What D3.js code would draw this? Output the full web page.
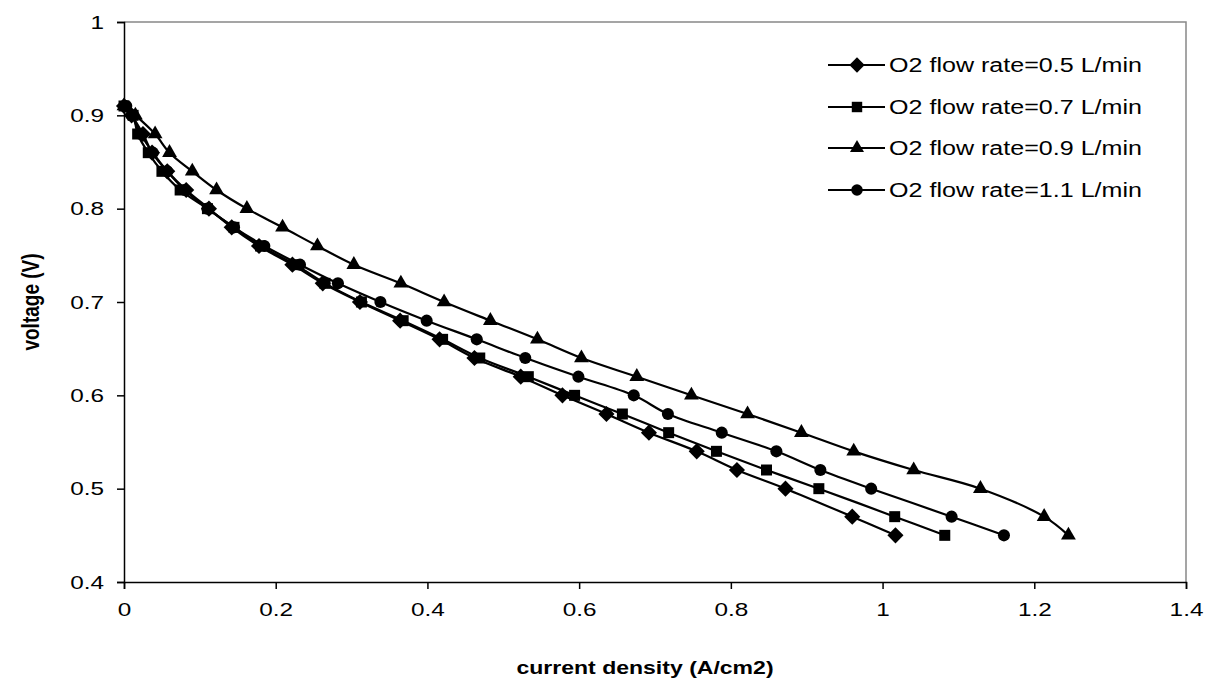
<!DOCTYPE html>
<html>
<head>
<meta charset="utf-8">
<script src="https://cdn.jsdelivr.net/npm/d3@7"></script>
<style>
  body { margin: 0; background: #fff; }
  text { font-family: "Liberation Sans", Arial, sans-serif; fill: #000; }
</style>
</head>
<body>
<div id="chart"></div>
<script>
// data
const seriesNames = ["O2 flow rate=0.5 L/min", "O2 flow rate=0.7 L/min", "O2 flow rate=0.9 L/min", "O2 flow rate=1.1 L/min"]
const markers = ["diamond", "square", "triangle", "circle"]
const voltage = [0.91, 0.90, 0.88, 0.86, 0.84, 0.82, 0.80, 0.78, 0.76, 0.74, 0.72, 0.70, 0.68, 0.66, 0.64, 0.62, 0.60, 0.58, 0.56, 0.54, 0.52, 0.50, 0.47, 0.45]
const current05 = [0.000, 0.010, 0.025, 0.037, 0.057, 0.082, 0.112, 0.142, 0.178, 0.222, 0.262, 0.311, 0.364, 0.416, 0.462, 0.523, 0.578, 0.636, 0.692, 0.755, 0.808, 0.872, 0.960, 1.017]
const current07 = [0.000, 0.012, 0.018, 0.032, 0.050, 0.074, 0.110, 0.145, 0.180, 0.226, 0.265, 0.313, 0.368, 0.420, 0.469, 0.533, 0.594, 0.657, 0.718, 0.781, 0.847, 0.916, 1.016, 1.082]
const current09 = [0.000, 0.015, 0.041, 0.060, 0.090, 0.122, 0.162, 0.209, 0.255, 0.303, 0.365, 0.422, 0.483, 0.545, 0.603, 0.676, 0.748, 0.822, 0.893, 0.962, 1.041, 1.129, 1.213, 1.245]
const current11 = [0.003, 0.010, 0.022, 0.038, 0.057, 0.080, 0.110, 0.145, 0.185, 0.232, 0.282, 0.338, 0.399, 0.465, 0.529, 0.599, 0.672, 0.717, 0.788, 0.860, 0.918, 0.985, 1.091, 1.160]
const xTicks = [0, 0.2, 0.4, 0.6, 0.8, 1, 1.2, 1.4]
const yTicks = [0.4, 0.5, 0.6, 0.7, 0.8, 0.9, 1]

const currents = [current05, current07, current09, current11]

// chart is a bit wider than normal, stretch the text to match
const stretch = 1.28

const w = 1211
const h = 686
const plotL = 124, plotR = 1186, plotT = 22, plotB = 582

const svg = d3.select('#chart')
    .append('svg')
    .attr('width', w)
    .attr('height', h)

const xScale = d3.scaleLinear().domain([0, 1.4]).range([plotL, plotR])
const yScale = d3.scaleLinear().domain([0.4, 1]).range([plotB, plotT])

// plot area border (grey, top and right)
svg.append('path')
    .attr('d', `M${plotL},${plotT}H${plotR}V${plotB}`)
    .attr('fill', 'none')
    .attr('stroke', '#888')
    .attr('stroke-width', 1.5)

// axes
const xAxis = d3.axisBottom(xScale)
    .tickValues(xTicks)
    .tickFormat(d => d)
    .tickSize(7)
    .tickPadding(14)
const yAxis = d3.axisLeft(yScale)
    .tickValues(yTicks)
    .tickFormat(d => d)
    .tickSize(7)
    .tickPadding(13)

const gx = svg.append('g')
    .attr('transform', `translate(0,${plotB})`)
    .call(xAxis)
const gy = svg.append('g')
    .attr('transform', `translate(${plotL},0)`)
    .call(yAxis)

for (const g of [gx, gy]) {
    g.select('.domain').attr('stroke', '#000').attr('stroke-width', 1.5)
    g.selectAll('.tick line').attr('stroke', '#000').attr('stroke-width', 1.5)
    g.selectAll('.tick text')
        .attr('font-size', 19)
        .attr('font-family', '"Liberation Sans", Arial, sans-serif')
}
gx.selectAll('.tick text').attr('transform', `scale(${stretch},1)`)
gy.selectAll('.tick text').each(function () {
    const t = d3.select(this)
    const x = +t.attr('x')
    t.attr('x', x / stretch).attr('transform', `scale(${stretch},1)`)
})

// marker shapes
const markerPath = (type, s) => {
    if (type === 'diamond') return d3.symbol(d3.symbolSquare, s * 130)()
    if (type === 'square') return d3.symbol(d3.symbolSquare, s * 121)()
    if (type === 'triangle') return d3.symbol(d3.symbolTriangle, s * 95)()
    return d3.symbol(d3.symbolCircle, s * 115)()
}
const markerRot = type => type === 'diamond' ? ' rotate(45)' : ''

const line = d3.line()
    .x(d => xScale(d[0]))
    .y(d => yScale(d[1]))
    .curve(d3.curveCatmullRom.alpha(0.5))

const plot = svg.append('g')

currents.forEach((cur, si) => {
    const pts = cur.map((c, i) => [c, voltage[i]])
    plot.append('path')
        .datum(pts)
        .attr('d', line)
        .attr('fill', 'none')
        .attr('stroke', '#000')
        .attr('stroke-width', 2.2)
    plot.selectAll('.m' + si)
        .data(pts)
        .enter()
        .append('path')
        .attr('class', 'm' + si)
        .attr('d', markerPath(markers[si], 1))
        .attr('transform', d => `translate(${xScale(d[0])},${yScale(d[1])})` + markerRot(markers[si]))
        .attr('fill', '#000')
})

// legend
const legendRows = [65, 107, 148, 190]
const legend = svg.append('g')
seriesNames.forEach((name, i) => {
    const y = legendRows[i]
    legend.append('line')
        .attr('x1', 828).attr('x2', 885)
        .attr('y1', y).attr('y2', y)
        .attr('stroke', '#000')
        .attr('stroke-width', 2.2)
    legend.append('path')
        .attr('d', markerPath(markers[i], 0.9))
        .attr('transform', `translate(857,${y})` + markerRot(markers[i]))
        .attr('fill', '#000')
    legend.append('text')
        .attr('transform', `translate(889,${y}) scale(${stretch},1)`)
        .attr('dy', '0.36em')
        .attr('font-size', 19.6)
        .text(name)
})

// axis titles
svg.append('text')
    .attr('transform', `translate(645,668) scale(${stretch},1)`)
    .attr('text-anchor', 'middle')
    .attr('dy', '0.36em')
    .attr('font-size', 18)
    .attr('font-weight', 'bold')
    .text('current density (A/cm2)')

svg.append('text')
    .attr('transform', `translate(30,302) scale(${stretch},1) rotate(-90)`)
    .attr('text-anchor', 'middle')
    .attr('dy', '0.36em')
    .attr('font-size', 19)
    .attr('font-weight', 'bold')
    .text('voltage (V)')
</script>
</body>
</html>
